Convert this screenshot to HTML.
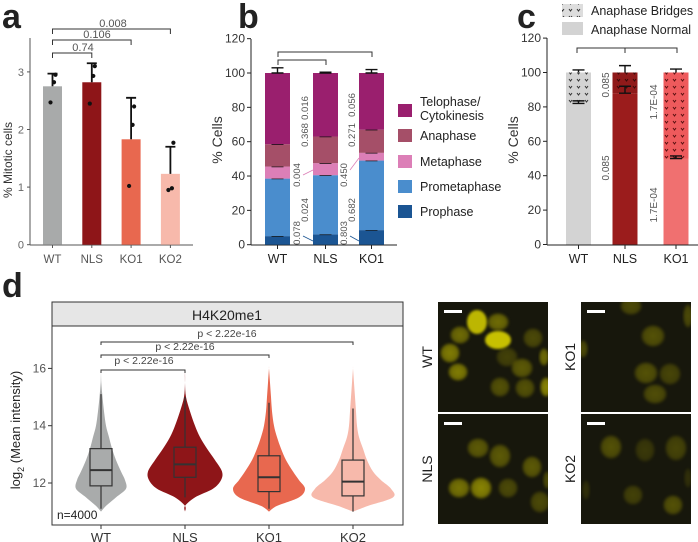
<!DOCTYPE html>
<html><head><meta charset="utf-8"><style>
html,body{margin:0;padding:0;background:#fff}
svg{display:block;font-family:"Liberation Sans",Arial,sans-serif}
</style></head><body>
<svg id="fig" width="698" height="542" viewBox="0 0 698 542" xmlns="http://www.w3.org/2000/svg">
<defs>
<pattern id="hatchW" width="8" height="7" patternUnits="userSpaceOnUse"><rect width="8" height="7" fill="#d3d3d3"/><path d="M1 2 L2.5 4 L4 2" stroke="#333" stroke-width="1" fill="none"/></pattern>
<pattern id="hatchN" width="8" height="7" patternUnits="userSpaceOnUse"><rect width="8" height="7" fill="#8f1a1a"/><path d="M1 2 L2.5 4 L4 2" stroke="#3a0808" stroke-width="1" fill="none"/></pattern>
<pattern id="hatchK" width="8" height="7" patternUnits="userSpaceOnUse"><rect width="8" height="7" fill="#ee5a5c"/><path d="M1 2 L2.5 4 L4 2" stroke="#5a1010" stroke-width="1" fill="none"/></pattern>
<pattern id="hatchL" width="8" height="7" patternUnits="userSpaceOnUse"><rect width="8" height="7" fill="#ddd"/><path d="M1 2 L2.5 4 L4 2" stroke="#333" stroke-width="1" fill="none"/></pattern>
<filter id="blur1"><feGaussianBlur stdDeviation="1.4"/></filter>
<radialGradient id="nuc" cx="50%" cy="50%" r="50%"><stop offset="0" stop-color="#c9c200"/><stop offset="0.75" stop-color="#a9a200"/><stop offset="1" stop-color="#6a6500" stop-opacity="0.6"/></radialGradient>
</defs>
<g id="root"></g>
</svg>
<script>
// ---------- Panel a data ----------
const aCats = ["WT","NLS","KO1","KO2"];
const aMeans = [2.75, 2.82, 1.83, 1.23];
const aErrTop = [2.97, 3.15, 2.55, 1.70];
const aPoints = [[2.47,2.82,2.95],[2.45,2.93,3.10],[1.02,2.08,2.40],[0.95,0.98,1.77]];
const aTicks = [0,1,2,3];
const aPvals = ["0.74","0.106","0.008"];
// ---------- Panel b data ----------
const bCats = ["WT","NLS","KO1"];
const bPhases = ["Prophase","Prometaphase","Metaphase","Anaphase","Telophase/Cytokinesis"];
const bProphase = [5, 6, 8.5];
const bPrometa = [33.5, 34.5, 40.5];
const bMeta = [7, 7, 4.5];
const bAna = [13, 15.5, 13.5];
const bTelo = [41.5, 37, 33];
const bErr = [[2.5,3.5,1.5,1.5,3],[2,5,1,3.5,0.5],[1.5,1,1,0.5,2]];
const bTicks = [0,20,40,60,80,100,120];
const bPNLS = ["0.078","0.024","0.004","0.368","0.016"];
const bPKO1 = ["0.803","0.682","0.450","0.271","0.056"];
// ---------- Panel c data ----------
const cCats = ["WT","NLS","KO1"];
const cNormal = [82, 88, 50];
const cBridges = [18, 12, 50];
const cErrTop = [101.5, 104, 102];
const cErrNormal = [83.5, 92, 51.5];
const cTicks = [0,20,40,60,80,100,120];
const cPvals = ["0.085","1.7E-04"];
// ---------- Panel d data ----------
const dCats = ["WT","NLS","KO1","KO2"];
const dLevels = [11.0,11.2,11.5,11.8,12.1,12.4,12.8,13.2,13.6,14.0,14.5,15.0,15.5,16.0];
const dDensWT  = [0,5,15,25,24,20,15,11,8,5,3,1.5,0.3,0];
const dDensNLS = [0,0,10,28,36,37,30,22,15,10,5,1,0,0];
const dDensKO1 = [0,8,30,36,30,24,17,12,8,5,3,2,1,0];
const dDensKO2 = [0,15,40,38,28,20,14,10,6,4,3,2,1,0];
const dMin = [11.1,11.5,11.1,11.0];
const dQ1 = [11.9,12.2,11.7,11.55];
const dMed = [12.45,12.65,12.2,12.05];
const dQ3 = [13.2,13.25,12.95,12.8];
const dMax = [15.1,15.0,14.8,14.6];
const dTicks = [12,14,16];

const NS="http://www.w3.org/2000/svg";
const root=document.getElementById('root');
function el(tag,attrs,parent,text){const e=document.createElementNS(NS,tag);for(const k in attrs)e.setAttribute(k,attrs[k]);if(text!==undefined)e.textContent=text;(parent||root).appendChild(e);return e;}
function txt(x,y,s,size,fill,anchor,rot,weight){const t=el('text',{x:x,y:y,'font-size':size,fill:fill||'#444','text-anchor':anchor||'middle'},root,s);if(rot)t.setAttribute('transform','rotate('+rot+' '+x+' '+y+')');if(weight)t.setAttribute('font-weight',weight);return t;}

// ===== Panel letters =====
let t;
t=txt(2,28,"a",34,"#222","start",0,"bold");
t=txt(238,28,"b",34,"#222","start",0,"bold");
t=txt(517,28,"c",34,"#222","start",0,"bold");
t=txt(2,297,"d",34,"#222","start",0,"bold");

// ===== Panel a =====
const ya=v=>244.7-57.6*v;
const xa=i=>52.5+39.3*i;
const aColors=["#a8aaaa","#8e1518","#e8684f","#f7b9ab"];
let l=el('line',{x1:30,y1:38,x2:30,y2:245,stroke:'#555','stroke-width':1});

l=el('line',{x1:30,y1:245,x2:193,y2:245,stroke:'#555','stroke-width':1});

aTicks.forEach(v=>{el('line',{x1:27,y1:ya(v),x2:30,y2:ya(v),stroke:'#555'});t=txt(24,ya(v)+4,String(v),11,'#666','end');});
t=txt(12,160,"% Mitotic cells",12,'#333','middle',-90);
aCats.forEach((c,i)=>{
  const x=xa(i);
  const r=el('rect',{x:x-9.5,y:ya(aMeans[i]),width:19,height:ya(0)-ya(aMeans[i]),fill:aColors[i]});
  
  const e=el('path',{d:`M${x} ${ya(aMeans[i])} V${ya(aErrTop[i])} M${x-5} ${ya(aErrTop[i])} H${x+5}`,stroke:'#111','stroke-width':1.8,fill:'none'});
  
  aPoints[i].forEach((p,j)=>{const d=el('circle',{cx:x+[-2,1.5,3][j],cy:ya(p),r:2.1,fill:'#111'});});
  el('line',{x1:x,y1:245,x2:x,y2:248,stroke:'#555'});
  t=txt(x,263,c,11.5,'#555');
});
aPvals.forEach((p,k)=>{
  const yy=[53,40,29][k], x1=xa(0), x2=xa(k+1);
  const b=el('path',{d:`M${x1} ${yy+5} V${yy} H${x2} V${yy+5}`,stroke:'#333','stroke-width':1,fill:'none'});
  
  t=txt([83,97,113][k],yy-2,p,11,'#555');
});

// ===== Panel b =====
const yb=v=>244.7-1.717*v;
const xb=i=>[277.5,325.5,371.5][i];
const bColors=["#1b5593","#4a8dcd","#dc7fb7","#a54f68","#9a1f6e"];
const bSeries=[bProphase,bPrometa,bMeta,bAna,bTelo];
l=el('line',{x1:251,y1:39,x2:251,y2:245,stroke:'#222'});
l=el('line',{x1:251,y1:245,x2:397,y2:245,stroke:'#222'});
bTicks.forEach(v=>{el('line',{x1:247,y1:yb(v),x2:251,y2:yb(v),stroke:'#222'});t=txt(245,yb(v)+4,String(v),12,'#333','end');});
t=txt(222,140,"% Cells",14,'#333','middle',-90);
bCats.forEach((c,i)=>{
  const x=xb(i);let cum=0;
  bSeries.forEach((s,k)=>{
    const r=el('rect',{x:x-12.5,y:yb(cum+s[i]),width:25,height:yb(cum)-yb(cum+s[i]),fill:bColors[k]});
    
    cum+=s[i];
    const top=yb(cum+bErr[i][k]);
    const e=el('path',{d:`M${x} ${yb(cum)} V${top} M${x-6} ${top} H${x+6} M${x-6} ${yb(cum)} H${x+6}`,stroke:'#111','stroke-width':1.4,fill:'none'});
    
  });
  el('line',{x1:x,y1:245,x2:x,y2:249,stroke:'#222'});
  t=txt(x,263,c,12.5,'#222');
});
let b=el('path',{d:`M278 65 V60 H326 V65 M278 57 V52 H372 V57`,stroke:'#333','stroke-width':1,fill:'none'});

const bLabY=[233,210,175,135,108];
const bOff=[-8,0,-8,0,0];
bPNLS.forEach((p,k)=>{t=txt(308+bOff[k],bLabY[k],p,9.5,'#555','middle',-90);});
bPKO1.forEach((p,k)=>{t=txt(355+bOff[k],bLabY[k]+(k==4?-3:0),p,9.5,'#555','middle',-90);});
el('line',{x1:303,y1:175,x2:313,y2:170,stroke:'#dc7fb7','stroke-width':0.8});
el('line',{x1:350,y1:170,x2:359,y2:158,stroke:'#dc7fb7','stroke-width':0.8});
el('line',{x1:303,y1:236,x2:313,y2:241,stroke:'#1b5593','stroke-width':0.8});
el('line',{x1:350,y1:236,x2:359,y2:241,stroke:'#1b5593','stroke-width':0.8});
const legY=[111,136,162,187,212];
const legOrder=[4,3,2,1,0];
legOrder.forEach((k,j)=>{
  const r=el('rect',{x:398,y:legY[j]-7,width:14,height:13,fill:bColors[k]});
  
  if(k===4){t=txt(420,106,"Telophase/",12.5,'#222','start');t=txt(420,120,"Cytokinesis",12.5,'#222','start');}
  else{t=txt(420,legY[j]+4,bPhases[k],12.5,'#222','start');}
});

// ===== Panel c =====
const yc=v=>244.5-1.72*v;
const xc=i=>[578.5,625,676][i];
const cColors=["#d3d3d3","#9b1c1c","#f07070"];
const cHatch=["url(#hatchW)","url(#hatchN)","url(#hatchK)"];
l=el('line',{x1:547,y1:38,x2:547,y2:245,stroke:'#222'});
l=el('line',{x1:547,y1:245,x2:698,y2:245,stroke:'#222'});
cTicks.forEach(v=>{el('line',{x1:543,y1:yc(v),x2:547,y2:yc(v),stroke:'#222'});t=txt(541,yc(v)+4,String(v),12,'#333','end');});
t=txt(518,140,"% Cells",14,'#333','middle',-90);
cCats.forEach((c,i)=>{
  const x=xc(i);
  let r=el('rect',{x:x-12.5,y:yc(cNormal[i]),width:25,height:yc(0)-yc(cNormal[i]),fill:cColors[i]});
  
  r=el('rect',{x:x-12.5,y:yc(cNormal[i]+cBridges[i]),width:25,height:yc(cNormal[i])-yc(cNormal[i]+cBridges[i]),fill:cHatch[i]});
  
  const tot=cNormal[i]+cBridges[i];
  let e=el('path',{d:`M${x} ${yc(tot)} V${yc(cErrTop[i])} M${x-6} ${yc(cErrTop[i])} H${x+6}`,stroke:'#111','stroke-width':1.4,fill:'none'});
  
  e=el('path',{d:`M${x} ${yc(cNormal[i])} V${yc(cErrNormal[i])} M${x-6} ${yc(cErrNormal[i])} H${x+6} M${x-6} ${yc(cNormal[i])} H${x+6}`,stroke:'#111','stroke-width':1.4,fill:'none'});
  
  el('line',{x1:x,y1:245,x2:x,y2:249,stroke:'#222'});
  t=txt(x,263,c,12.5,'#222');
});
b=el('path',{d:`M577 53 V48 H625 V53 M577 53 V48 H677 V53`,stroke:'#333','stroke-width':1,fill:'none'});

[[609,85,0],[609,168,0],[657,102,1],[657,205,1]].forEach(a=>{t=txt(a[0],a[1],cPvals[a[2]],10,'#555','middle',-90);});
let r=el('rect',{x:562,y:4,width:21,height:13,fill:'url(#hatchL)'});
r=el('rect',{x:562,y:22,width:21,height:13,fill:'#d3d3d3'});
t=txt(591,15,"Anaphase Bridges",12.5,'#222','start');
t=txt(591,34,"Anaphase Normal",12.5,'#222','start');

// ===== Panel d =====
const yd=v=>483-28.65*(v-12);
const xd=i=>101+84*i;
const dDens=[dDensWT,dDensNLS,dDensKO1,dDensKO2];
const dColors=["#a9abab","#8e1518","#e8684f","#f7b9ab"];
r=el('rect',{x:52,y:302,width:351,height:24,fill:'#e6e6e6',stroke:'#333','stroke-width':1});

t=txt(227,320,"H4K20me1",14,'#222');
r=el('rect',{x:52,y:326,width:351,height:199,fill:'none',stroke:'#333','stroke-width':1});

dTicks.forEach(v=>{el('line',{x1:48,y1:yd(v),x2:52,y2:yd(v),stroke:'#333'});t=txt(46,yd(v)+4,String(v),12,'#555','end');});
t=el('text',{x:20,y:430,'font-size':13,fill:'#222','text-anchor':'middle',transform:'rotate(-90 20 430)'});

t.innerHTML='log<tspan font-size="9" dy="4">2</tspan><tspan dy="-4"> (Mean intensity)</tspan>';
dCats.forEach((c,i)=>{
  const x=xd(i),dn=dDens[i];
  let R=[],L=[];
  dLevels.forEach((lv,k)=>{R.push([x+dn[k],yd(lv)]);L.unshift([x-dn[k],yd(lv)]);});
  const pts=R.concat(L);
  let d=`M${pts[0][0]} ${pts[0][1]}`;
  for(let k=0;k<pts.length-1;k++){const p0=pts[Math.max(k-1,0)],p1=pts[k],p2=pts[k+1],p3=pts[Math.min(k+2,pts.length-1)];
    d+=` C${p1[0]+(p2[0]-p0[0])/6} ${p1[1]+(p2[1]-p0[1])/6} ${p2[0]-(p3[0]-p1[0])/6} ${p2[1]-(p3[1]-p1[1])/6} ${p2[0]} ${p2[1]}`;}
  const v=el('path',{d:d+'Z',fill:dColors[i],stroke:'none'});
  
  const w=el('path',{d:`M${x} ${yd(dMin[i])} V${yd(dQ1[i])} M${x} ${yd(dQ3[i])} V${yd(dMax[i])}`,stroke:'#333','stroke-width':1.2});
  
  const bx=el('rect',{x:x-11,y:yd(dQ3[i]),width:22,height:yd(dQ1[i])-yd(dQ3[i]),fill:dColors[i],stroke:'#333','stroke-width':1.2});
  
  const md=el('line',{x1:x-11,y1:yd(dMed[i]),x2:x+11,y2:yd(dMed[i]),stroke:'#333','stroke-width':2});
  
  el('line',{x1:x,y1:525,x2:x,y2:529,stroke:'#333'});
  t=txt(x,542,c,13,'#333');
});
[[370,1,144,364],[355,2,185,350],[342,3,227,337]].forEach(a=>{
  b=el('path',{d:`M${xd(0)} ${a[0]+3} V${a[0]} H${xd(a[1])} V${a[0]+3}`,stroke:'#333','stroke-width':1,fill:'none'});
  
  t=txt(a[2],a[3],"p < 2.22e-16",10.5,'#444');
});
t=txt(57,519,"n=4000",12,'#222','start');

// ===== Micrographs =====
const imgs=[
 {n:'WT',x:438,y:302,lx:432,nuc:[[460,335,10,9,1],[477,322,10,12,1.6],[498,322,11,9,1],[450,353,10,10,1.2],[498,340,13,9,1.7],[458,372,10,9,1.2],[507,357,11,10,0.5],[522,368,11,10,0.8],[533,338,10,10,0.6],[500,387,10,10,0.7],[525,388,10,10,0.7],[546,387,6,10,1.3],[544,357,5,9,1]]},
 {n:'NLS',x:438,y:414,lx:432,nuc:[[478,448,11,10,0.8],[500,456,11,12,0.8],[532,467,10,11,0.8],[459,488,11,10,1.1],[481,488,11,11,1.3],[508,488,10,10,0.6],[540,502,10,11,0.6],[547,480,4,9,0.6]]},
 {n:'KO1',x:581,y:302,lx:575,nuc:[[631,306,11,9,0.6],[653,336,12,11,0.7],[646,373,12,11,0.7],[670,374,11,11,0.55],[655,394,12,10,0.65],[688,316,5,12,0.6],[583,349,5,9,0.6]]},
 {n:'KO2',x:581,y:414,lx:575,nuc:[[611,447,11,12,0.7],[645,450,10,12,0.4],[676,448,11,13,0.55],[633,495,10,10,0.5],[673,505,10,10,0.7],[586,490,4,10,0.3],[688,478,4,10,0.3]]}
];
imgs.forEach(im=>{
  const g=el('g',{});
  el('rect',{x:im.x,y:im.y,width:110,height:110,fill:'#17170c'},g);
  const cp='cp'+im.n;const c=el('clipPath',{id:cp},g);el('rect',{x:im.x,y:im.y,width:110,height:110},c);
  const gg=el('g',{'clip-path':`url(#${cp})`},g);
  im.nuc.forEach(nu=>{const o=Math.min(1,nu[4]*0.5);el('ellipse',{cx:nu[0],cy:nu[1],rx:nu[2],ry:nu[3],fill:nu[4]>1.4?'#e6de00':'url(#nuc)',opacity:o,filter:'url(#blur1)'},gg);});
  const sb=el('rect',{x:im.x+6,y:im.y+8,width:18,height:3,fill:'#fff'},g);
  
  t=txt(im.lx,im.y+55,im.n,14,'#222','middle',-90);
});
</script>
</body></html>
